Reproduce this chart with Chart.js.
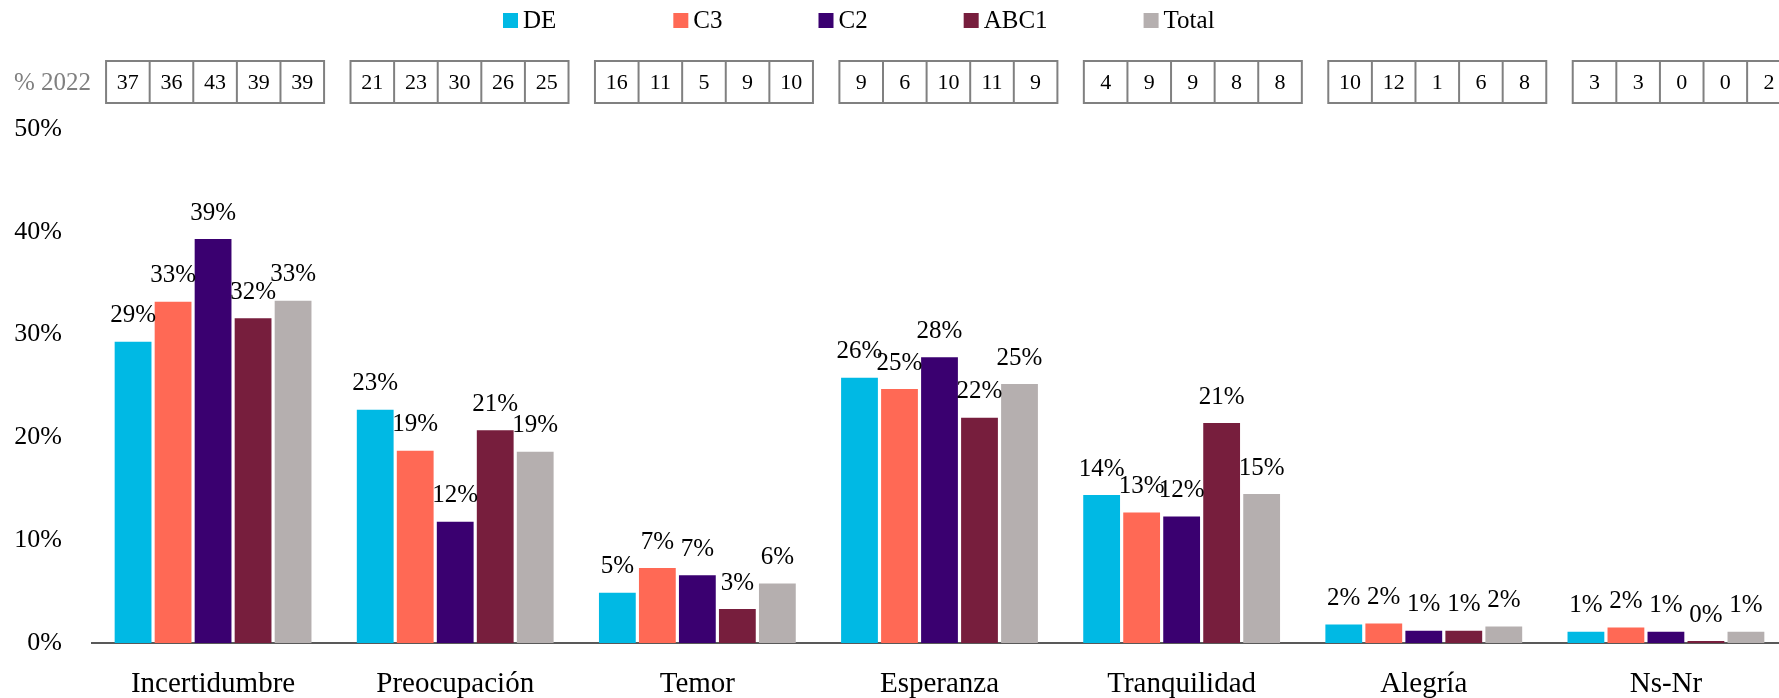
<!DOCTYPE html>
<html>
<head>
<meta charset="utf-8">
<script src="https://cdn.jsdelivr.net/npm/chart.js@4"></script>
<style>
  html, body { margin: 0; padding: 0; background: #fff; overflow: hidden; }
  #wrap { width: 1790px; height: 698px; position: relative; }
</style>
</head>
<body>
<div id="wrap"><canvas id="emoChart"></canvas></div>
<script>
// categorias y series
const categories = ['Incertidumbre', 'Preocupación', 'Temor', 'Esperanza', 'Tranquilidad', 'Alegría', 'Ns-Nr'];
const seriesNames = ['DE', 'C3', 'C2', 'ABC1', 'Total'];
const seriesColors = ['#00B9E4', '#FF6955', '#3A0070', '#771E3D', '#B5AFAF'];

// valores actuales (%)
const valDE   = [29.3, 22.7, 4.9, 25.8, 14.4, 1.8, 1.1];
const valC3   = [33.2, 18.7, 7.3, 24.7, 12.7, 1.9, 1.5];
const valC2   = [39.3, 11.8, 6.6, 27.8, 12.3, 1.2, 1.1];
const valABC1 = [31.6, 20.7, 3.3, 21.9, 21.4, 1.2, 0.2];
const valTot  = [33.3, 18.6, 5.8, 25.2, 14.5, 1.6, 1.1];

// % 2022 (recuadros superiores)
const prevDE   = [37, 21, 16, 9, 4, 10, 3];
const prevC3   = [36, 23, 11, 6, 9, 12, 3];
const prevC2   = [43, 30, 5, 10, 9, 1, 0];
const prevABC1 = [39, 26, 9, 11, 8, 6, 0];
const prevTot  = [39, 25, 10, 9, 8, 8, 2];

const yTicks = [0, 10, 20, 30, 40, 50];

const allValues = [valDE, valC3, valC2, valABC1, valTot];
const allPrev = [prevDE, prevC3, prevC2, prevABC1, prevTot];

const FONT = "'Liberation Serif', 'Times New Roman', serif";

// etiquetas de valor sobre cada barra
const barLabels = {
    id: 'barLabels',
    afterDatasetsDraw(chart) {
        const ctx = chart.ctx;
        ctx.save();
        ctx.font = '25px ' + FONT;
        ctx.fillStyle = '#000';
        ctx.textAlign = 'center';
        ctx.textBaseline = 'middle';
        chart.data.datasets.forEach((ds, di) => {
            chart.getDatasetMeta(di).data.forEach((bar, i) => {
                ctx.fillText(Math.round(ds.data[i]) + '%', bar.x, bar.y - 26);
            });
        });
        ctx.restore();
    }
};

// leyenda + tabla "% 2022"
const headerPlugin = {
    id: 'headerPlugin',
    afterDraw(chart) {
        const ctx = chart.ctx;
        const xScale = chart.scales.x;
        ctx.save();

        // leyenda
        ctx.font = '25px ' + FONT;
        ctx.textBaseline = 'middle';
        ctx.textAlign = 'left';
        let lx = 503;
        seriesNames.forEach((name, k) => {
            ctx.fillStyle = seriesColors[k];
            ctx.fillRect(lx, 13, 15, 15);
            ctx.fillStyle = '#000';
            ctx.fillText(name, lx + 20, 21);
            const w = ctx.measureText(name).width;
            lx += 20 + w + (k === 0 ? 117 : 96);
        });

        // etiqueta % 2022
        ctx.fillStyle = '#808080';
        ctx.fillText('% 2022', 14, 83);

        // recuadros
        const cellW = 43.6, top = 61, h = 42;
        ctx.strokeStyle = '#808080';
        ctx.lineWidth = 2;
        ctx.font = '22px ' + FONT;
        ctx.textAlign = 'center';
        categories.forEach((c, i) => {
            const cx = xScale.getPixelForValue(i) + 2 + i * 2.3;
            const left = cx - cellW * 2.5;
            ctx.strokeRect(left, top, cellW * 5, h);
            for (let k = 1; k < 5; k++) {
                ctx.beginPath();
                ctx.moveTo(left + cellW * k, top);
                ctx.lineTo(left + cellW * k, top + h);
                ctx.stroke();
            }
            ctx.fillStyle = '#000';
            allPrev.forEach((arr, k) => {
                ctx.fillText(String(arr[i]), left + cellW * (k + 0.5), top + h / 2 + 1);
            });
        });
        ctx.restore();
    }
};

new Chart(document.getElementById('emoChart'), {
    type: 'bar',
    data: {
        labels: categories,
        datasets: seriesNames.map((name, k) => ({
            label: name,
            data: allValues[k],
            backgroundColor: seriesColors[k],
            borderWidth: 0,
            barPercentage: 0.92,
            categoryPercentage: 0.826
        }))
    },
    options: {
        responsive: true,
        maintainAspectRatio: false,
        animation: false,
        layout: { padding: { top: 129, right: 3, left: 0, bottom: 0 } },
        plugins: {
            legend: { display: false },
            tooltip: { enabled: false }
        },
        scales: {
            x: {
                afterFit(scale) { scale.height = 55; },
                grid: { display: false, drawTicks: false },
                border: { display: true, color: '#595959', width: 2 },
                ticks: {
                    color: '#000',
                    font: { family: FONT, size: 29 },
                    padding: 24,
                    maxRotation: 0
                }
            },
            y: {
                min: 0,
                max: 50,
                afterFit(scale) { scale.width = 92; },
                afterBuildTicks(scale) { scale.ticks = yTicks.map(v => ({ value: v })); },
                grid: { display: false, drawTicks: false },
                border: { display: false },
                ticks: {
                    color: '#000',
                    font: { family: FONT, size: 26 },
                    padding: 30,
                    callback: v => v + '%'
                }
            }
        }
    },
    plugins: [barLabels, headerPlugin]
});
</script>
</body>
</html>
